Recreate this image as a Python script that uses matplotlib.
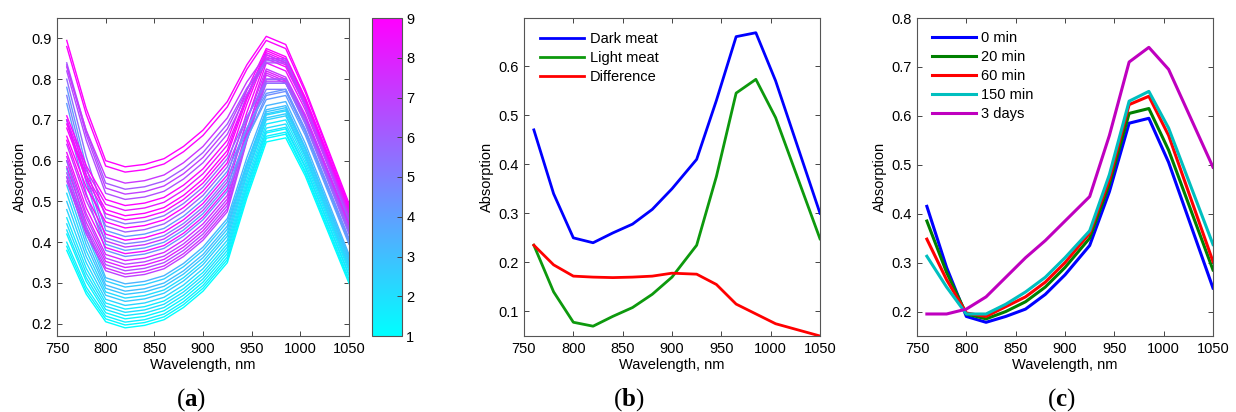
import numpy as np
import matplotlib
matplotlib.use("Agg")
import matplotlib.pyplot as plt
from matplotlib import cm, colors

plt.rcParams['font.family'] = ['Liberation Sans', 'DejaVu Sans']
plt.rcParams['mathtext.fontset'] = 'custom'
plt.rcParams['mathtext.bf'] = 'Liberation Serif:bold'
plt.rcParams['mathtext.rm'] = 'Liberation Serif'

# wavelengths of the sensor channels, nm
wavelength = [760, 780, 800, 820, 840, 860, 880, 900, 925, 945, 965, 985, 1005, 1050]

# (a) individual spectra and their colour value (1..9)
levels_a = [1.0, 1.2, 1.5, 1.3, 1.8, 2.0, 1.6, 2.3, 2.6, 2.1, 2.8, 3.0, 2.5, 3.3,
            7.0, 7.5, 6.5, 8.0, 6.8, 7.8,
            4.5, 8.5, 4.0, 7.2, 5.0, 8.8, 4.2, 6.0, 9.0, 5.5,
            8.7, 9.0, 8.2, 8.9,
            6.5, 7.0, 6.2, 7.3,
            9.0, 8.9]
spectra_a = [
    [0.380, 0.273, 0.205, 0.190, 0.196, 0.210, 0.240, 0.280, 0.350, 0.508, 0.646, 0.656, 0.563, 0.299],
    [0.390, 0.281, 0.212, 0.197, 0.203, 0.217, 0.247, 0.287, 0.357, 0.516, 0.655, 0.665, 0.570, 0.305],
    [0.400, 0.290, 0.219, 0.204, 0.210, 0.224, 0.254, 0.294, 0.364, 0.522, 0.660, 0.670, 0.575, 0.310],
    [0.420, 0.304, 0.227, 0.212, 0.218, 0.232, 0.262, 0.302, 0.372, 0.530, 0.668, 0.678, 0.583, 0.318],
    [0.430, 0.313, 0.235, 0.220, 0.226, 0.240, 0.270, 0.310, 0.380, 0.536, 0.672, 0.682, 0.587, 0.322],
    [0.445, 0.324, 0.243, 0.228, 0.234, 0.248, 0.278, 0.318, 0.388, 0.544, 0.680, 0.690, 0.595, 0.330],
    [0.460, 0.336, 0.251, 0.236, 0.242, 0.256, 0.286, 0.326, 0.396, 0.553, 0.690, 0.700, 0.603, 0.335],
    [0.480, 0.350, 0.260, 0.245, 0.251, 0.265, 0.295, 0.335, 0.405, 0.563, 0.700, 0.710, 0.610, 0.340],
    [0.500, 0.365, 0.270, 0.255, 0.261, 0.275, 0.305, 0.345, 0.415, 0.570, 0.705, 0.715, 0.615, 0.345],
    [0.520, 0.379, 0.278, 0.263, 0.269, 0.283, 0.313, 0.353, 0.423, 0.578, 0.712, 0.722, 0.621, 0.350],
    [0.540, 0.394, 0.287, 0.272, 0.278, 0.292, 0.322, 0.362, 0.432, 0.586, 0.720, 0.730, 0.628, 0.355],
    [0.560, 0.408, 0.295, 0.280, 0.286, 0.300, 0.330, 0.370, 0.440, 0.593, 0.725, 0.735, 0.633, 0.360],
    [0.580, 0.423, 0.305, 0.290, 0.296, 0.310, 0.340, 0.380, 0.450, 0.593, 0.715, 0.725, 0.630, 0.365],
    [0.600, 0.437, 0.313, 0.298, 0.304, 0.318, 0.348, 0.388, 0.458, 0.607, 0.735, 0.745, 0.643, 0.370],
    [0.550, 0.420, 0.330, 0.315, 0.321, 0.335, 0.365, 0.405, 0.475, 0.648, 0.800, 0.800, 0.700, 0.430],
    [0.560, 0.429, 0.337, 0.322, 0.328, 0.342, 0.372, 0.412, 0.482, 0.656, 0.810, 0.790, 0.700, 0.440],
    [0.570, 0.438, 0.345, 0.330, 0.336, 0.350, 0.380, 0.420, 0.490, 0.650, 0.790, 0.790, 0.693, 0.425],
    [0.585, 0.449, 0.353, 0.338, 0.344, 0.358, 0.388, 0.428, 0.498, 0.669, 0.820, 0.800, 0.708, 0.445],
    [0.600, 0.461, 0.361, 0.346, 0.352, 0.366, 0.396, 0.436, 0.506, 0.661, 0.795, 0.795, 0.700, 0.435],
    [0.610, 0.470, 0.370, 0.355, 0.361, 0.375, 0.405, 0.445, 0.515, 0.675, 0.815, 0.795, 0.708, 0.450],
    [0.700, 0.520, 0.380, 0.365, 0.371, 0.385, 0.415, 0.455, 0.525, 0.653, 0.760, 0.770, 0.670, 0.400],
    [0.620, 0.484, 0.387, 0.372, 0.378, 0.392, 0.422, 0.462, 0.532, 0.696, 0.840, 0.820, 0.725, 0.460],
    [0.740, 0.548, 0.395, 0.380, 0.386, 0.400, 0.430, 0.470, 0.540, 0.655, 0.750, 0.760, 0.663, 0.395],
    [0.640, 0.502, 0.403, 0.388, 0.394, 0.408, 0.438, 0.478, 0.548, 0.697, 0.825, 0.805, 0.713, 0.450],
    [0.760, 0.566, 0.411, 0.396, 0.402, 0.416, 0.446, 0.486, 0.556, 0.676, 0.775, 0.775, 0.678, 0.410],
    [0.650, 0.515, 0.420, 0.405, 0.411, 0.425, 0.455, 0.495, 0.565, 0.718, 0.850, 0.830, 0.735, 0.470],
    [0.780, 0.585, 0.429, 0.414, 0.420, 0.434, 0.464, 0.504, 0.574, 0.680, 0.765, 0.775, 0.675, 0.405],
    [0.700, 0.550, 0.440, 0.425, 0.431, 0.445, 0.475, 0.515, 0.585, 0.703, 0.800, 0.800, 0.700, 0.430],
    [0.660, 0.535, 0.450, 0.435, 0.441, 0.455, 0.485, 0.525, 0.595, 0.738, 0.860, 0.840, 0.743, 0.475],
    [0.800, 0.610, 0.460, 0.445, 0.451, 0.465, 0.495, 0.535, 0.605, 0.708, 0.790, 0.790, 0.690, 0.420],
    [0.680, 0.555, 0.470, 0.455, 0.461, 0.475, 0.505, 0.545, 0.615, 0.750, 0.865, 0.845, 0.748, 0.480],
    [0.690, 0.565, 0.480, 0.465, 0.471, 0.485, 0.515, 0.555, 0.625, 0.758, 0.870, 0.850, 0.753, 0.485],
    [0.700, 0.577, 0.493, 0.478, 0.484, 0.498, 0.528, 0.568, 0.638, 0.757, 0.855, 0.835, 0.740, 0.475],
    [0.710, 0.588, 0.505, 0.490, 0.496, 0.510, 0.540, 0.580, 0.650, 0.773, 0.875, 0.855, 0.755, 0.485],
    [0.820, 0.650, 0.520, 0.505, 0.511, 0.525, 0.555, 0.595, 0.665, 0.763, 0.840, 0.840, 0.733, 0.455],
    [0.835, 0.664, 0.533, 0.518, 0.524, 0.538, 0.568, 0.608, 0.678, 0.774, 0.850, 0.850, 0.740, 0.460],
    [0.840, 0.673, 0.545, 0.530, 0.536, 0.550, 0.580, 0.620, 0.690, 0.778, 0.845, 0.845, 0.735, 0.455],
    [0.830, 0.675, 0.560, 0.545, 0.551, 0.565, 0.595, 0.635, 0.705, 0.793, 0.860, 0.840, 0.738, 0.465],
    [0.895, 0.728, 0.600, 0.585, 0.591, 0.605, 0.635, 0.675, 0.745, 0.835, 0.905, 0.885, 0.775, 0.495],
    [0.880, 0.714, 0.587, 0.572, 0.578, 0.592, 0.622, 0.662, 0.732, 0.824, 0.895, 0.875, 0.768, 0.490],
]

# (b) mean spectra
dark_meat = [0.470, 0.340, 0.250, 0.240, 0.260, 0.278, 0.308, 0.350, 0.410, 0.530, 0.660, 0.668, 0.570, 0.300]
light_meat = [0.235, 0.140, 0.078, 0.070, 0.090, 0.108, 0.135, 0.170, 0.235, 0.375, 0.545, 0.573, 0.495, 0.248]
difference = [0.235, 0.195, 0.172, 0.170, 0.169, 0.170, 0.172, 0.178, 0.176, 0.155, 0.115, 0.095, 0.075, 0.050]

# (c) spectra over storage time
time_labels = ["0 min", "20 min", "60 min", "150 min", "3 days"]
min0 = [0.415, 0.290, 0.190, 0.178, 0.190, 0.205, 0.235, 0.275, 0.335, 0.445, 0.585, 0.595, 0.505, 0.248]
min20 = [0.385, 0.280, 0.195, 0.185, 0.200, 0.220, 0.250, 0.290, 0.350, 0.460, 0.605, 0.615, 0.530, 0.285]
min60 = [0.348, 0.265, 0.197, 0.190, 0.210, 0.230, 0.260, 0.300, 0.360, 0.470, 0.623, 0.640, 0.560, 0.302]
min150 = [0.313, 0.250, 0.195, 0.195, 0.215, 0.240, 0.270, 0.310, 0.365, 0.480, 0.630, 0.650, 0.575, 0.337]
days3 = [0.195, 0.195, 0.205, 0.230, 0.270, 0.310, 0.345, 0.385, 0.435, 0.560, 0.710, 0.740, 0.695, 0.495]

W, H = 1236, 412
fig = plt.figure(figsize=(W / 100, H / 100), dpi=100)


def box(x0, x1, y0, y1):
    # pixel box (from top-left) -> figure fraction
    return [x0 / W, 1 - y1 / H, (x1 - x0) / W, (y1 - y0) / H]


def style(ax):
    for s in ax.spines.values():
        s.set_color('#555555')
        s.set_linewidth(0.8)
    ax.tick_params(direction='in', length=3.5, width=0.7, top=True, right=True,
                   labelsize=10.5, color='#444444', pad=4)
    ax.set_xlim(750, 1050)
    ax.set_xticks([750, 800, 850, 900, 950, 1000, 1050])
    ax.set_xlabel("Wavelength, nm", fontsize=10.5, labelpad=2)
    ax.set_ylabel("Absorption", fontsize=10.5, labelpad=3)


leg_kw = dict(loc='upper left', frameon=False, fontsize=10.5, handlelength=3.0,
              handletextpad=0.4, labelspacing=0.35, borderaxespad=0, borderpad=0)

# panel (a)
ax1 = fig.add_axes(box(57, 349, 18, 336))
cmap = plt.get_cmap('cool')
norm = colors.Normalize(vmin=1, vmax=9)
for lev, spec in zip(levels_a, spectra_a):
    ax1.plot(wavelength, spec, color=cmap(norm(lev)), lw=1.0)
style(ax1)
ax1.set_ylim(0.17, 0.95)
ax1.set_yticks([0.2, 0.3, 0.4, 0.5, 0.6, 0.7, 0.8, 0.9])

cax = fig.add_axes(box(372, 402, 18, 336))
sm = cm.ScalarMappable(norm=norm, cmap=cmap)
cb = fig.colorbar(sm, cax=cax, ticks=range(1, 10))
cb.outline.set_color('#555555')
cb.outline.set_linewidth(0.8)
cax.tick_params(direction='in', length=3.5, width=0.7, labelsize=10.5, color='#444444', pad=3)

# panel (b)
ax2 = fig.add_axes(box(524, 820, 18, 336))
ax2.plot(wavelength, dark_meat, color='#0000ff', lw=2.0, label="Dark meat")
ax2.plot(wavelength, light_meat, color='#0d990d', lw=2.0, label="Light meat")
ax2.plot(wavelength, difference, color='#ff0000', lw=2.0, label="Difference")
style(ax2)
ax2.set_ylim(0.05, 0.698)
ax2.set_yticks([0.1, 0.2, 0.3, 0.4, 0.5, 0.6])
ax2.legend(bbox_to_anchor=(0.055, 0.957), **leg_kw)

# panel (c)
ax3 = fig.add_axes(box(917, 1213, 18, 336))
series_c = [min0, min20, min60, min150, days3]
colors_c = ['#0000ff', '#008000', '#ff0000', '#00bfbf', '#bf00bf']
for lab, ser, col in zip(time_labels, series_c, colors_c):
    ax3.plot(wavelength, ser, color=col, lw=2.2, label=lab)
style(ax3)
ax3.set_ylim(0.15, 0.8)
ax3.set_yticks([0.2, 0.3, 0.4, 0.5, 0.6, 0.7, 0.8])
ax3.legend(bbox_to_anchor=(0.05, 0.96), **leg_kw)

# captions
for xc, letter in [(191, 'a'), (629, 'b'), (1061, 'c')]:
    fig.text(xc / W, 1 - 400 / H, r'$\mathrm{(}\mathbf{%s}\mathrm{)}$' % letter,
             fontsize=18, ha='center', va='center')

fig.savefig("out.png", dpi=100)
